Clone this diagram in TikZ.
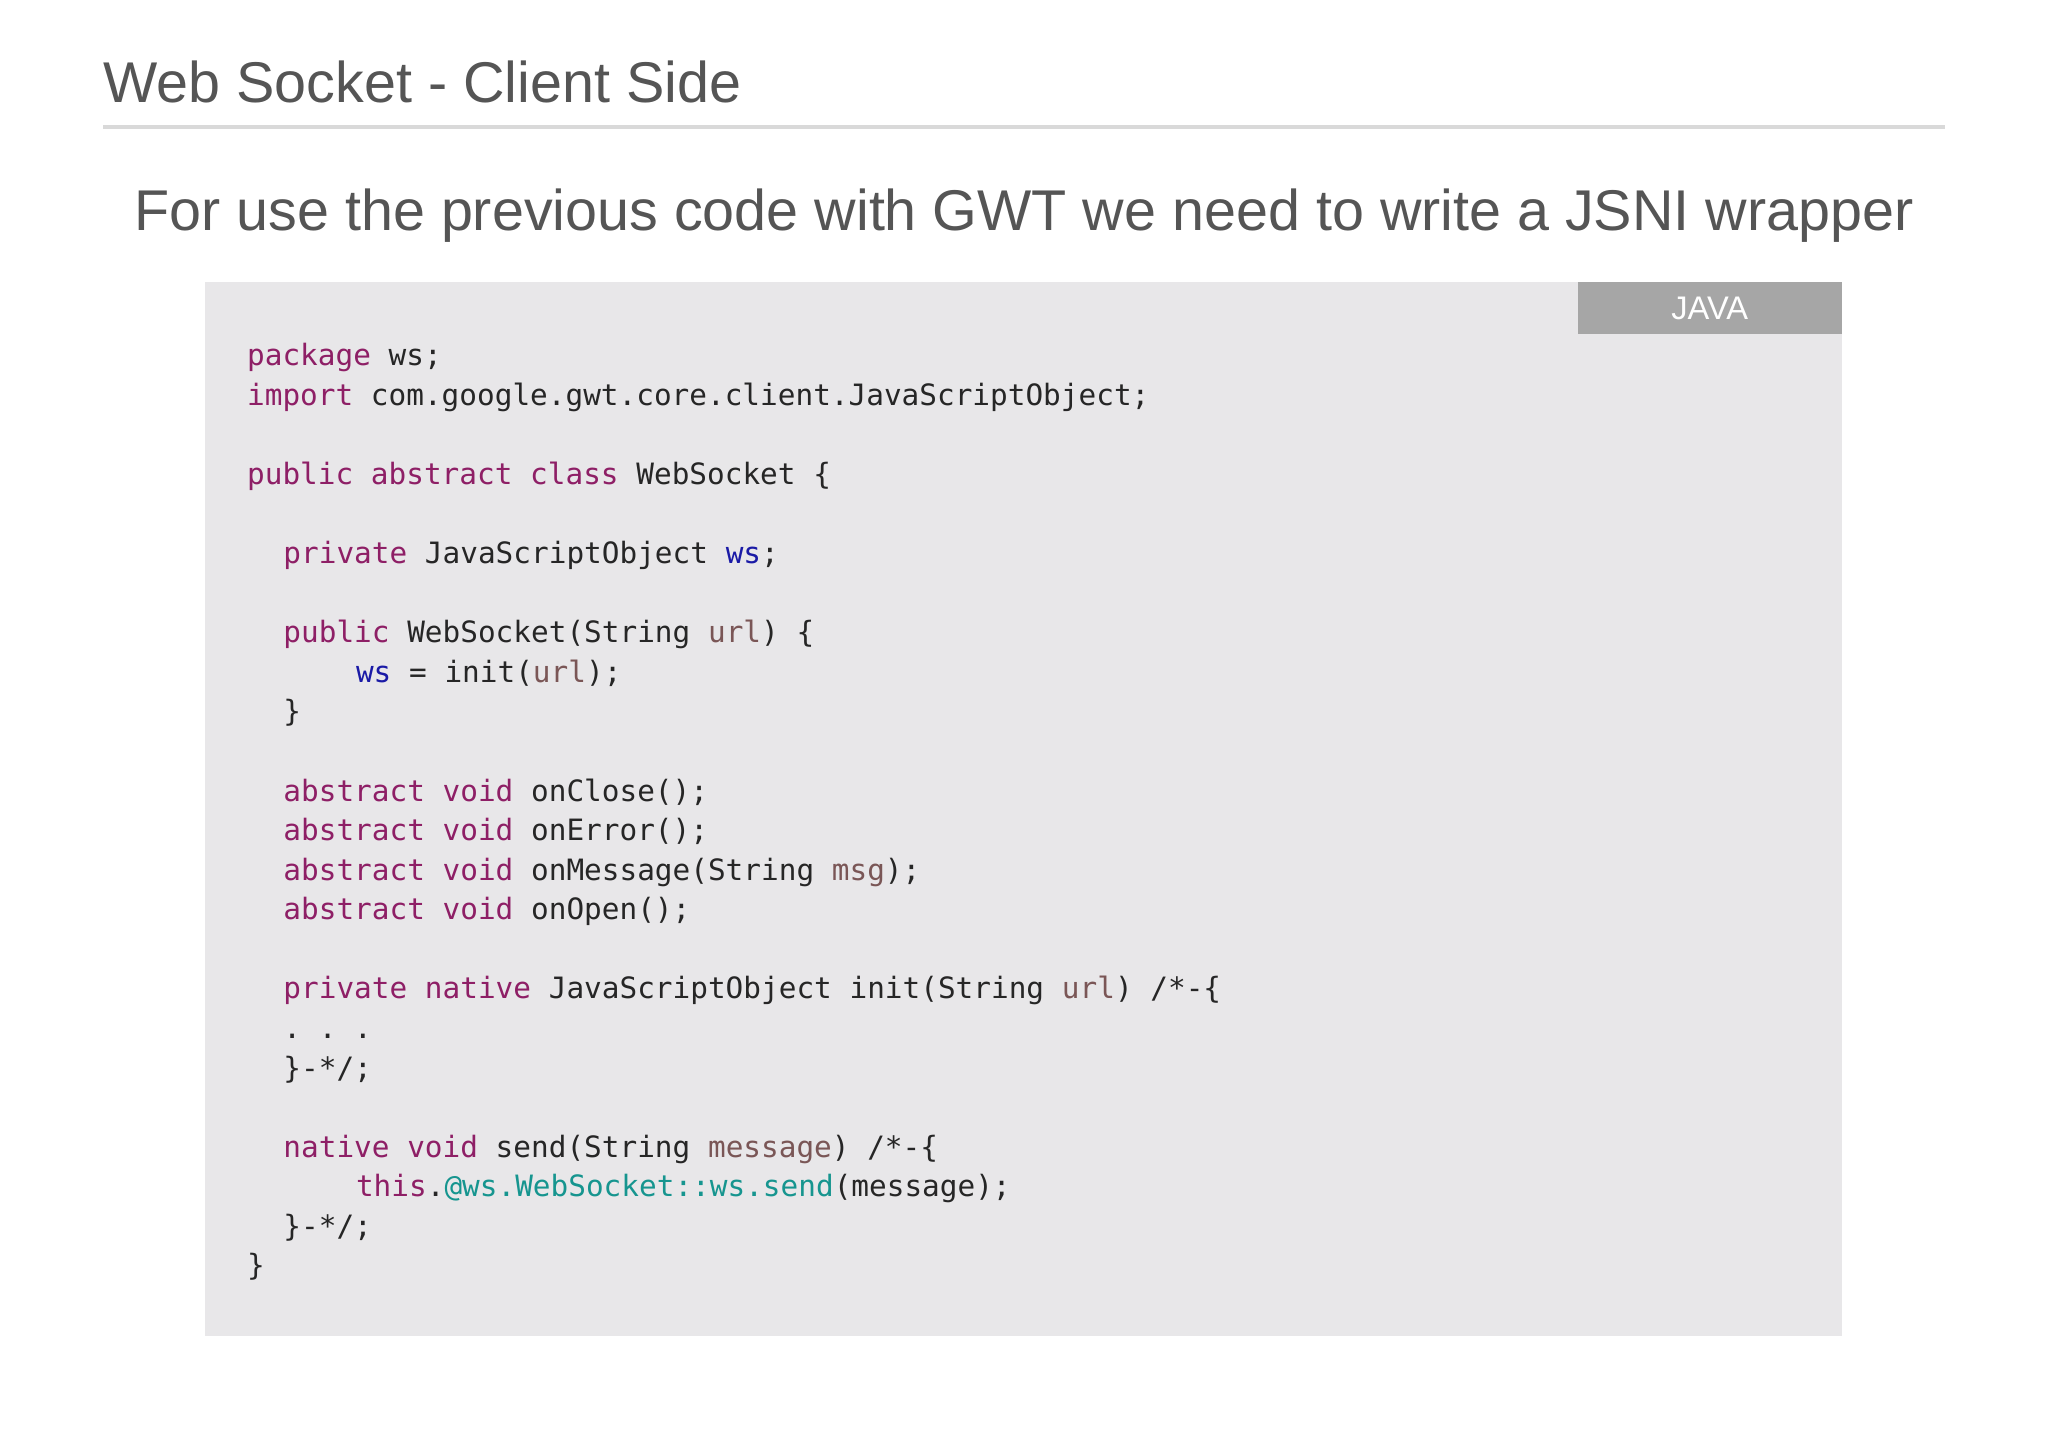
\documentclass[tikz,border=0pt]{standalone}
\usepackage{fontspec}
\setmainfont{Liberation Sans}
\setmonofont{DejaVu Sans Mono}
\definecolor{kw}{HTML}{8E1F66}
\definecolor{fld}{HTML}{1A1AA6}
\definecolor{par}{HTML}{7A5656}
\definecolor{tl}{HTML}{16958F}
\definecolor{ttl}{HTML}{555555}
\newcommand{\cK}[1]{\textcolor{kw}{#1}}
\newcommand{\cF}[1]{\textcolor{fld}{#1}}
\newcommand{\cP}[1]{\textcolor{par}{#1}}
\newcommand{\cT}[1]{\textcolor{tl}{#1}}
\begin{document}
\begin{tikzpicture}[x=1pt,y=-1pt,
  cl/.style={anchor=base west,inner sep=0pt,font=\ttfamily\fontsize{22.5}{27}\selectfont,text=black!85}]
\useasboundingbox (0,0) rectangle (1568,1108);
\fill[white] (0,0) rectangle (1568,1108);
\node[anchor=west,inner sep=0pt,text=ttl,font=\fontsize{44}{50}\selectfont] (title) at (79,63) {Web Socket - Client Side};
\draw[black!15,line width=3pt] (79,97) -- (1489,97);
\node[inner sep=0pt,text=ttl,font=\fontsize{44}{50}\selectfont] (sub) at (784,165) {For use the previous code with GWT we need to write a JSNI wrapper};
\fill[fill={rgb,255:red,232;green,231;blue,233}] (157,216) rectangle (1410,1023);
\node[fill={rgb,255:red,166;green,166;blue,166},minimum width=202pt,minimum height=40pt,inner sep=0pt,text=white,font=\fontsize{25}{28}\selectfont] (tab) at (1309,236) {JAVA};
\def\L#1#2#3{\node[cl] at ({189+#2*13.9},{280+#1*30.3}) {#3};}
\L{0}{0}{\cK{package} ws;}
\L{1}{0}{\cK{import} com.google.gwt.core.client.JavaScriptObject;}
\L{3}{0}{\cK{public} \cK{abstract} \cK{class} WebSocket \{}
\L{5}{2}{\cK{private} JavaScriptObject \cF{ws};}
\L{7}{2}{\cK{public} WebSocket(String \cP{url}) \{}
\L{8}{6}{\cF{ws} = init(\cP{url});}
\L{9}{2}{\}}
\L{11}{2}{\cK{abstract} \cK{void} onClose();}
\L{12}{2}{\cK{abstract} \cK{void} onError();}
\L{13}{2}{\cK{abstract} \cK{void} onMessage(String \cP{msg});}
\L{14}{2}{\cK{abstract} \cK{void} onOpen();}
\L{16}{2}{\cK{private} \cK{native} JavaScriptObject init(String \cP{url}) /*-\{}
\L{17}{2}{.\ .\ .}
\L{18}{2}{\}-*/;}
\L{20}{2}{\cK{native} \cK{void} send(String \cP{message}) /*-\{}
\L{21}{6}{\cK{this}.\cT{@ws.WebSocket::ws.send}(message);}
\L{22}{2}{\}-*/;}
\L{23}{0}{\}}
\end{tikzpicture}
\end{document}
